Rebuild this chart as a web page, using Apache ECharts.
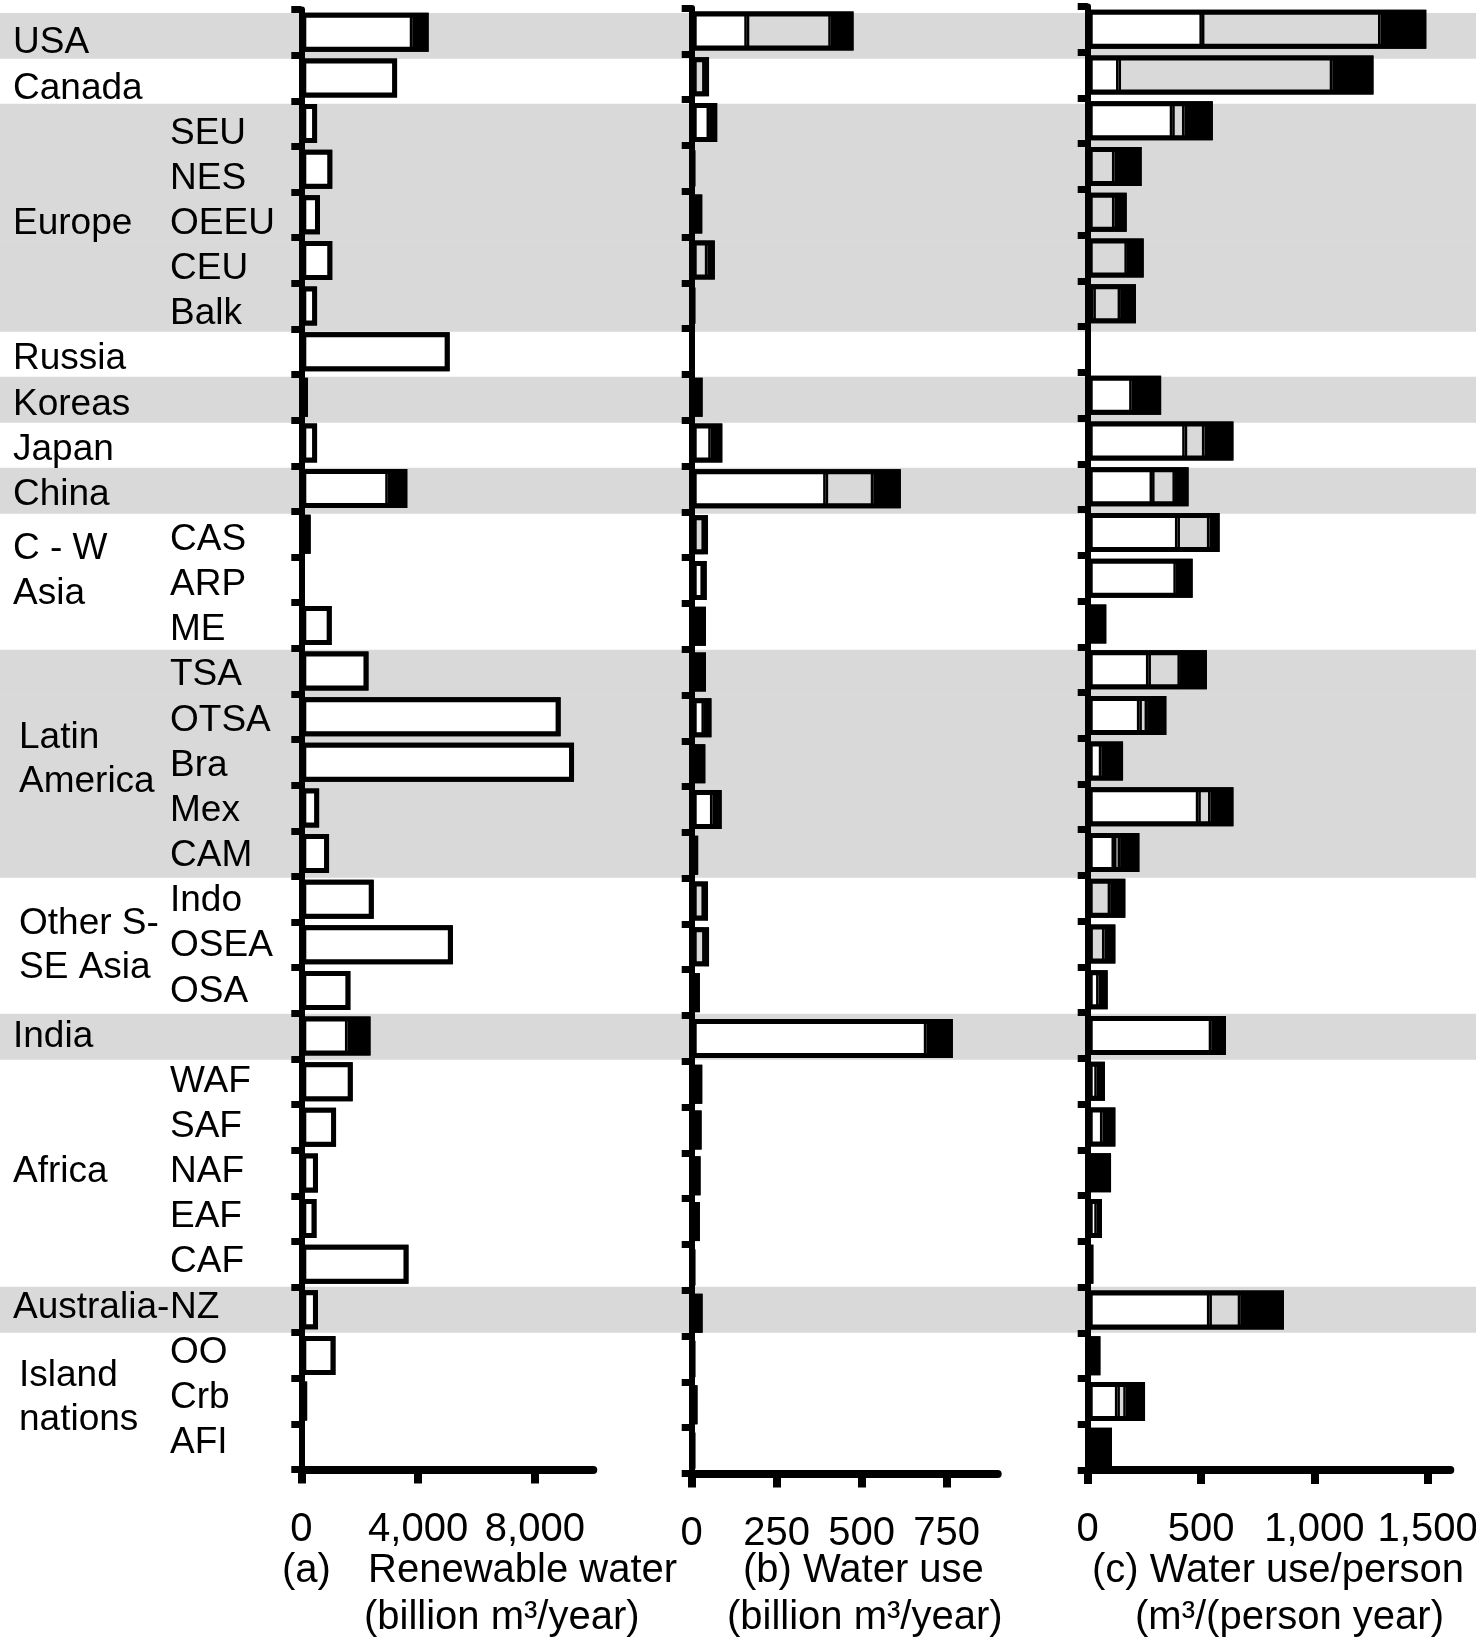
<!DOCTYPE html>
<html>
<head>
<meta charset="utf-8">
<script src="https://cdn.jsdelivr.net/npm/echarts@6/dist/echarts.min.js"></script>
<style>
html,body{margin:0;padding:0;background:#fff;}
#chart{width:1476px;height:1638px;}
</style>
</head>
<body>
<div id="chart"></div>
<script>
// ---------------- DATA ----------------
const categories = ['USA','Canada','SEU','NES','OEEU','CEU','Balk','Russia','Koreas','Japan','China',
  'CAS','ARP','ME','TSA','OTSA','Bra','Mex','CAM','Indo','OSEA','OSA','India',
  'WAF','SAF','NAF','EAF','CAF','Australia-NZ','OO','Crb','AFI'];

const subLabels = ['','','SEU','NES','OEEU','CEU','Balk','','','','',
  'CAS','ARP','ME','TSA','OTSA','Bra','Mex','CAM','Indo','OSEA','OSA','',
  'WAF','SAF','NAF','EAF','CAF','NZ','OO','Crb','AFI'];

const groupLabels = ['USA','Canada','','','Europe','','','Russia','Koreas','Japan','China',
  'C - W','Asia','','','','Latin\nAmerica','','','','Other S-\nSE Asia','','India',
  '','','Africa','','','Australia-','','Island\nnations',''];

// region group of each row (used for the alternating grey bands)
const groupIndex = [0,1,2,2,2,2,2,3,4,5,6,7,7,7,8,8,8,8,8,9,9,9,10,11,11,11,11,11,12,13,13,13];

// (a) Renewable water, billion m3/year
const renewWhite = [3800,3280,540,1060,640,1060,540,5080,230,540,2960,
  320,15,1040,2300,8880,9340,610,950,2480,5190,1680,1580,
  1760,1190,570,520,3670,570,1170,200,20];
const renewBlack = [560,0,0,0,0,0,0,0,0,0,670,
  0,0,0,0,0,0,0,0,0,0,0,790,
  0,0,0,0,0,0,0,0,0];

// (b) Water use, billion m3/year
const useWhite = [162,0,51,0,0,0,0,0,0,56,394,
  0,33,0,0,36,0,61,0,0,0,0,690,
  0,0,0,0,0,0,0,0,0];
const useGrey = [247,38,0,0,0,46,0,0,0,0,140,
  36,0,0,0,0,0,0,0,36,38,0,0,
  0,0,0,0,0,0,0,0,0];
const useBlack = [67,13,24,8,31,22,8,0,32,34,81,
  12,11,42,42,22,40,27,19,12,13,24,78,
  31,29,26,24,8,32,8,17,8];

// (c) Water use per person, m3/(person year)
const perWhite = [504,136,373,0,0,0,25,0,194,428,284,
  396,389,0,268,228,60,488,116,0,10,48,545,
  40,65,0,40,0,537,0,131,0];
const perGrey = [788,943,54,118,118,173,118,0,0,87,101,
  141,0,0,139,34,0,54,27,99,64,0,0,
  0,0,0,0,0,136,0,37,0];
const perBlack = [202,182,125,120,54,74,70,0,130,128,60,
  45,74,82,119,85,96,101,85,67,48,40,65,
  36,57,103,23,25,193,56,85,107];

const ticksA = [0,4000,8000];
const ticksB = [0,250,500,750];
const ticksC = [0,500,1000,1500];

// ---------------- STYLE / LAYOUT ----------------
const FONT = '"Liberation Sans", Arial, Helvetica, sans-serif';
const GREY = '#d9d9d9';
const fmtNum = v => Number(v).toLocaleString('en-US');
const toBar = arr => arr.map(v => (v > 0 ? v : '-'));

// rich style tag per group-label row (indent / small vertical nudges)
const GROUP_TAGS = {11: ['d'], 12: ['d'], 16: ['iu', 'iu'], 20: ['i', 'i'], 30: ['i', 'i']};

const panels = [
  { grid: {left: 301.3, top: 9.5, width: 292, height: 1460}, max: 10000, ticks: ticksA,
    segs: [[renewWhite, '#ffffff'], [renewBlack, '#000000']] },
  { grid: {left: 691.7, top: 8, width: 306, height: 1465.5}, max: 900, ticks: ticksB,
    segs: [[useWhite, '#ffffff'], [useGrey, GREY], [useBlack, '#000000']] },
  { grid: {left: 1087.7, top: 6.5, width: 362.6, height: 1463.5}, max: 1600, ticks: ticksC,
    segs: [[perWhite, '#ffffff'], [perGrey, GREY], [perBlack, '#000000']] }
];

const grids = [
  {left: 0, top: 13, width: 1476, height: 1456, containLabel: false, outerBoundsMode: 'none'},   // bands
  {left: 301, top: 20.6, width: 100, height: 1444.8, containLabel: false, outerBoundsMode: 'none'} // row labels
];
const xAxes = [
  {type: 'value', gridIndex: 0, min: 0, max: 1, show: false},
  {type: 'value', gridIndex: 1, min: 0, max: 1, show: false}
];
const labelRich = {
  n: {fontSize: 37, fontFamily: FONT, color: '#000', lineHeight: 44},
  d: {fontSize: 37, fontFamily: FONT, color: '#000', lineHeight: 44, padding: [18, 0, 0, 0]},
  i: {fontSize: 37, fontFamily: FONT, color: '#000', lineHeight: 44, padding: [0, 0, 0, 6]},
  iu: {fontSize: 37, fontFamily: FONT, color: '#000', lineHeight: 44, padding: [0, 0, 12, 6]}
};
const yAxes = [
  {type: 'category', gridIndex: 0, data: categories, inverse: true, show: false, position: 'left'},
  {type: 'category', gridIndex: 1, data: categories, inverse: true, position: 'left', offset: 0,
   axisLine: {show: false}, axisTick: {show: false}, splitLine: {show: false},
   axisLabel: {interval: 0, align: 'left', margin: 131, fontSize: 37, fontFamily: FONT, color: '#000',
     formatter: (v, i) => subLabels[i]}},
  {type: 'category', gridIndex: 1, data: categories, inverse: true, position: 'left', offset: 0,
   axisLine: {show: false}, axisTick: {show: false}, splitLine: {show: false},
   axisLabel: {interval: 0, align: 'left', margin: 288, fontSize: 37, fontFamily: FONT, color: '#000',
     lineHeight: 44,
     formatter: (v, i) => {
       const t = groupLabels[i];
       if (!t) return '';
       const tags = GROUP_TAGS[i] || [];
       return t.split('\n').map((s, k) => '{' + (tags[k] || 'n') + '|' + s + '}').join('\n');
     },
     rich: labelRich}}
];

const series = [{
  type: 'bar', xAxisIndex: 0, yAxisIndex: 0, silent: true, z: -10,
  data: groupIndex.map(g => (g % 2 === 0 ? 1 : '-')),
  barWidth: 46, itemStyle: {color: GREY}, animation: false
}];

panels.forEach((p, k) => {
  const gi = grids.length;
  grids.push(Object.assign({containLabel: false, outerBoundsMode: 'none'}, p.grid));
  const xi = xAxes.length;
  xAxes.push({
    type: 'value', gridIndex: gi, min: 0, max: p.max, interval: p.ticks[1] - p.ticks[0],
    axisLine: {show: true, onZero: false, lineStyle: {color: '#000', width: 8}},
    axisTick: {show: true, customValues: p.ticks, length: 14, lineStyle: {color: '#000', width: 8}},
    axisLabel: {show: true, customValues: p.ticks, margin: 40, fontSize: 40,
      fontFamily: FONT, color: '#000', formatter: fmtNum},
    splitLine: {show: false}
  });
  const yi = yAxes.length;
  yAxes.push({
    type: 'category', gridIndex: gi, data: categories, inverse: true, position: 'left',
    axisLine: {show: true, lineStyle: {color: '#000', width: 6}},
    axisTick: {show: true, interval: 0, length: 10, lineStyle: {color: '#000', width: 7}},
    axisLabel: {show: false}, splitLine: {show: false}
  });
  // stacked segments (thin dividers)
  p.segs.forEach(([arr, col], s) => {
    series.push({
      type: 'bar', name: 'panel' + k + '_seg' + s, xAxisIndex: xi, yAxisIndex: yi,
      stack: 'stack' + k, data: toBar(arr), barWidth: 39, barGap: '-100%',
      itemStyle: {color: col, borderColor: '#000', borderWidth: 2.5},
      emphasis: {disabled: true}, animation: false
    });
  });
  // outline of the whole bar (total of the segments)
  const totals = categories.map((c, i) => p.segs.reduce((acc, [arr]) => acc + arr[i], 0));
  series.push({
    type: 'bar', name: 'panel' + k + '_outline', xAxisIndex: xi, yAxisIndex: yi,
    data: toBar(totals), barWidth: 39, barGap: '-100%', z: 3,
    itemStyle: {color: 'rgba(0,0,0,0)', borderColor: '#000', borderWidth: 5},
    emphasis: {disabled: true}, silent: true, animation: false
  });
});

const titleStyle = (text, x, y) => ({
  type: 'text', x: x, y: y, silent: true,
  style: {text: text, fontSize: 40, fontFamily: FONT, fill: '#000', verticalAlign: 'middle', align: 'left'}
});

const option = {
  backgroundColor: '#ffffff',
  animation: false,
  textStyle: {fontFamily: FONT},
  grid: grids, xAxis: xAxes, yAxis: yAxes, series: series,
  graphic: [
    titleStyle('(a)', 282, 1571),
    titleStyle('Renewable water', 368, 1571),
    titleStyle('(billion m³/year)', 364, 1618),
    titleStyle('(b) Water use', 743, 1571),
    titleStyle('(billion m³/year)', 727, 1618),
    titleStyle('(c) Water use/person', 1092, 1571),
    titleStyle('(m³/(person year)', 1135, 1618)
  ]
};

const chart = echarts.init(document.getElementById('chart'), null, {renderer: 'canvas', width: 1476, height: 1638});
chart.setOption(option);
</script>
</body>
</html>
